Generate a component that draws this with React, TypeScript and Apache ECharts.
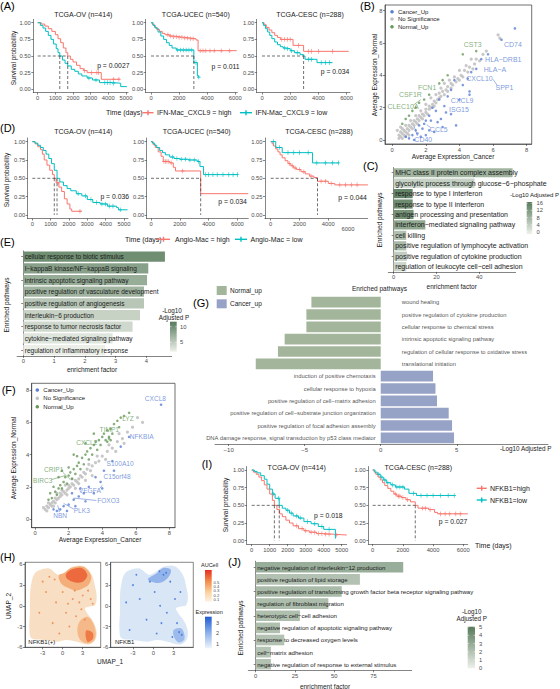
import React, { useEffect, useRef } from "react";
import * as echarts from "echarts";

type Pt = [number, number];

const FONT = "'Liberation Sans', Arial, Helvetica, sans-serif";
const RED = "#F8766D";
const CYAN = "#00BFC4";
const AXIS = "#333333";
const TICKTXT = "#4d4d4d";
const BLUE = "#5b80d4";
const GREEN = "#669a5a";
const GREY = "#c2c2c2";
const LOW_G = "#eef1eb";
const HIGH_G = "#577a5a";

// ---------- (A) IFN-Mac_CXCL9 survival (days, probability) ----------
const ovCxcl9High: Pt[] = [[0,1],[200,0.98],[400,0.95],[600,0.91],[800,0.87],[1000,0.82],[1150,0.76],[1300,0.7],[1450,0.62],[1600,0.55],[1700,0.5],[1850,0.45],[2000,0.41],[2200,0.36],[2400,0.31],[2600,0.28],[2800,0.25],[3600,0.15],[4650,0.15]];
const ovCxcl9HighCensor = [2650, 3050, 3350, 3450, 4300, 4600];
const ovCxcl9Low: Pt[] = [[0,1],[150,0.96],[300,0.92],[450,0.87],[600,0.81],[750,0.75],[900,0.68],[1050,0.61],[1150,0.55],[1250,0.5],[1400,0.44],[1550,0.39],[1700,0.35],[1900,0.3],[2100,0.27],[2300,0.23],[2500,0.2],[2800,0.17],[3100,0.14],[3500,0.1],[4300,0.09],[4700,0.04],[5050,0.04]];
const ovCxcl9LowCensor = [2900, 3300, 3800, 3950, 4100, 4300];

const ucecCxcl9High: Pt[] = [[0,1],[100,0.97],[250,0.93],[400,0.9],[600,0.87],[800,0.84],[1000,0.82],[1300,0.8],[1600,0.79],[2000,0.78],[2400,0.77],[2800,0.76],[3200,0.74],[3350,0.58],[6100,0.58]];
const ucecCxcl9HighCensor = [1200,1400,1600,1800,2000,2200,2400,2600,2800,3000,3500,3700,3900,4200,4500,5000,5600];
const ucecCxcl9Low: Pt[] = [[0,1],[150,0.96],[300,0.92],[500,0.86],[700,0.8],[900,0.75],[1100,0.7],[1300,0.66],[1500,0.62],[1800,0.59],[3050,0.4],[3300,0.2],[3400,0.18]];
const ucecCxcl9LowCensor = [1900, 2100, 2300, 2500, 2700, 2900, 3200, 3400];

const cescCxcl9High: Pt[] = [[0,1],[150,0.97],[300,0.93],[500,0.89],[700,0.85],[900,0.81],[1100,0.78],[1300,0.75],[2200,0.66],[2950,0.57],[6150,0.57]];
const cescCxcl9HighCensor = [1400,1600,1800,2000,2600,3300,3500,4000,5000];
const cescCxcl9Low: Pt[] = [[0,1],[100,0.96],[250,0.91],[400,0.86],[550,0.81],[700,0.76],[900,0.71],[1100,0.67],[1300,0.64],[1500,0.62],[1700,0.61],[2000,0.58],[2300,0.55],[2700,0.52],[2950,0.5],[3050,0.45],[3900,0.4],[5000,0.4]];
const cescCxcl9LowCensor = [1600,1800,2100,2500,3300,3500,4200,4500,4800];

// ---------- (D) Angio-Mac survival ----------
const ovAngioHigh: Pt[] = [[0,1],[150,0.97],[300,0.93],[450,0.89],[550,0.83],[650,0.75],[800,0.68],[950,0.61],[1100,0.55],[1200,0.5],[1300,0.44],[1450,0.38],[1600,0.32],[1750,0.22],[1900,0.15],[2050,0.08],[2150,0.05],[2700,0.05]];
const ovAngioHighCensor = [1400, 2600];
const ovAngioLow: Pt[] = [[0,1],[150,0.98],[300,0.95],[450,0.92],[600,0.88],[750,0.83],[900,0.77],[1050,0.7],[1200,0.61],[1350,0.5],[1500,0.45],[1700,0.4],[1900,0.36],[2100,0.33],[2400,0.29],[2700,0.26],[3000,0.21],[3300,0.17],[3700,0.15],[4100,0.12],[4600,0.1],[4700,0.07],[5200,0.07]];
const ovAngioLowCensor = [2500,2900,3200,3500,3800,4000,4200,4400,4800];

const ucecAngioHigh: Pt[] = [[0,1],[150,0.96],[300,0.92],[500,0.86],[700,0.8],[850,0.73],[1300,0.71],[1550,0.65],[1700,0.6],[3450,0.29],[6750,0.29]];
const ucecAngioHighCensor = [900,1000,1100,1200,1400,2200];
const ucecAngioLow: Pt[] = [[0,1],[100,0.98],[250,0.95],[400,0.92],[600,0.88],[800,0.85],[1000,0.82],[1300,0.79],[1600,0.77],[2000,0.76],[2600,0.75],[3200,0.73],[3400,0.66],[3650,0.55],[6050,0.55]];
const ucecAngioLowCensor = [1500,1800,2100,2400,2700,3000,3300,3800,4000,4300,4600,5000,5400,5700,6000];

const cescAngioHigh: Pt[] = [[0,1],[100,0.97],[200,0.94],[350,0.9],[500,0.86],[650,0.82],[800,0.78],[1000,0.74],[1200,0.7],[1400,0.67],[1600,0.64],[1800,0.62],[2100,0.59],[2400,0.56],[2700,0.53],[3000,0.51],[3250,0.46],[4000,0.43],[4450,0.41],[6750,0.41]];
const cescAngioHighCensor = [1300,1500,1700,2000,2300,2800,3500,3800,4200,4800,5200,5600,6000];
const cescAngioLow: Pt[] = [[0,1],[350,0.92],[800,0.85],[2900,0.71],[4750,0.71]];
const cescAngioLowCensor = [200,600,1200,1600,2000,2600,3200,3800,4300,4700];

// ---------- (I) NFKB1 survival ----------
const ovNfkbHigh: Pt[] = [[0,1],[100,0.97],[250,0.94],[400,0.9],[550,0.85],[700,0.79],[850,0.73],[1000,0.66],[1150,0.57],[1260,0.5],[1400,0.44],[1550,0.38],[1700,0.34],[1900,0.29],[2100,0.25],[2300,0.21],[2600,0.17],[2900,0.14],[3200,0.12],[3600,0.1],[4000,0.09],[4600,0.08],[5280,0.08]];
const ovNfkbHighCensor = [2500,2800,3000,3300,3500,3700,3900,4100,4300,4700];
const ovNfkbLow: Pt[] = [[0,1],[150,0.98],[300,0.96],[500,0.92],[700,0.87],[850,0.8],[1000,0.73],[1150,0.66],[1300,0.6],[1530,0.5],[1700,0.46],[1900,0.43],[2100,0.39],[2300,0.35],[2600,0.32],[2900,0.27],[3300,0.24],[3700,0.2],[4000,0.16],[4650,0.03]];
const ovNfkbLowCensor = [1200,1500,2000,2200,2500,2700,3100,3500,3900,4300];

const cescNfkbHigh: Pt[] = [[0,1],[100,0.97],[200,0.94],[350,0.9],[500,0.86],[650,0.82],[800,0.78],[1000,0.74],[1200,0.7],[1400,0.66],[1600,0.63],[1900,0.61],[2200,0.58],[2500,0.55],[2820,0.5],[3000,0.46],[3700,0.44],[4100,0.4],[4300,0.38],[6300,0.38]];
const cescNfkbHighCensor = [1500,1700,1800,2000,2300,3300,3500,3800,4500,4800,5100,5500,5800];
const cescNfkbLow: Pt[] = [[0,1],[150,0.97],[300,0.94],[500,0.9],[700,0.86],[900,0.82],[1200,0.79],[1500,0.76],[2100,0.73],[2400,0.67],[2900,0.64],[5400,0.64]];
const cescNfkbLowCensor = [400,600,800,1000,1300,1600,1800,2000,2700,3200,3600,4000,4500,5000,5400];

// ---------- (B) IFN-Mac_CXCL9 expression, cancer vs normal ----------
const bNoSig: Pt[] = [[0.4,0.3],[0.5,0.2],[0.6,0.4],[0.5,0.5],[0.7,0.3],[0.8,0.5],[0.7,0.6],[0.9,0.4],[0.9,0.7],[1.0,0.6],[1.1,0.8],[1.0,0.9],[1.2,0.7],[1.2,1.0],[1.3,0.9],[1.4,1.1],[1.3,1.2],[1.5,1.0],[1.5,1.3],[1.6,1.2],[1.7,1.4],[1.6,1.5],[1.8,1.3],[1.8,1.6],[1.9,1.5],[2.0,1.7],[2.0,1.9],[2.1,1.6],[2.2,1.9],[2.2,2.1],[2.3,2.0],[2.4,2.2],[2.5,2.1],[2.5,2.4],[2.6,2.3],[2.7,2.5],[2.8,2.6],[2.8,2.9],[2.9,2.7],[3.0,3.0],[3.1,2.8],[3.2,3.1],[3.3,3.0],[3.3,3.3],[3.5,3.2],[3.5,3.5],[3.6,3.4],[3.8,3.6],[3.9,3.8],[4.0,3.7],[4.1,4.0],[4.2,3.9],[4.3,4.3],[4.5,4.2],[4.6,4.5],[4.8,4.4],[4.9,4.7],[5.0,5.0],[5.2,4.9],[5.4,5.3],[5.6,5.5],[6.3,6.5],[6.4,6.3],[0.6,0.7],[0.8,0.9],[1.1,1.2],[1.4,1.5],[1.7,1.8],[2.0,2.2],[2.3,2.6],[2.6,2.8],[2.9,3.2],[3.1,3.5],[3.4,3.7],[3.7,3.9],[4.0,4.3],[4.4,4.6],[4.7,5.0],[0.3,0.6],[0.5,0.8],[0.4,0.1],[0.6,0.1],[0.8,0.2],[1.0,0.3]];
const bCancerUp: Pt[] = [[7.3,6.9],[6.5,6.2],[5.7,5.3],[5.3,5.0],[5.0,4.4],[4.7,4.2],[4.5,3.8],[4.2,3.4],[4.6,3.0],[3.7,3.7],[3.5,3.1],[3.3,2.7],[3.1,2.1],[2.8,2.5],[2.6,1.8],[2.4,2.0],[2.2,1.5],[2.0,1.2],[2.9,1.3],[3.5,1.6],[4.6,2.8],[3.8,0.9],[2.5,0.5],[1.8,0.7],[1.5,0.4],[1.2,0.3],[1.0,0.1],[1.3,0.0],[2.2,0.6],[2.0,0.3],[1.7,0.2],[3.0,0.8],[2.7,1.1],[1.6,0.9],[1.9,1.0],[2.3,1.2],[3.2,1.7],[4.0,2.5],[0.8,0.2],[1.4,0.6]];
const bNormalUp: Pt[] = [[4.2,5.3],[5.0,5.5],[3.0,3.7],[2.8,3.5],[1.9,2.5],[1.6,2.3],[1.2,1.8],[1.0,1.5],[0.8,1.3],[2.2,2.8],[1.4,2.0],[3.3,4.0],[0.6,1.0]];
// gene, label x, label y
const bCancerGenes: [string, number, number][] = [["CD74",7.18,5.92],["HLA−DRB1",6.61,4.95],["HLA−A",6.11,4.39],["CXCL10",5.19,3.82],["SPP1",6.68,3.26],["CXCL9",4.16,2.47],["ISG15",3.97,1.9],["CCL5",2.77,0.66],["CD40",1.85,0.04]];
const bNormalGenes: [string, number, number][] = [["CST3",4.79,5.92],["FCN1",2.08,3.26],["CSF1R",1.08,2.84],["CLEC10A",0.64,2.1]];
const bCancerLeaders: number[][] = [[6.0,3.75,6.25,3.38],[1.5,0.25,1.3,0.85],[2.3,0.75,2.05,0.95]];
const bNormalLeaders: number[][] = [[1.25,2.15,1.7,2.5]];

// ---------- (F) Angio-Mac expression, cancer vs normal ----------
const fNoSig: Pt[] = [[0.6,0.6],[0.7,0.8],[0.8,0.7],[0.9,0.9],[1.0,0.8],[1.0,1.0],[1.1,1.1],[1.2,1.0],[1.3,1.2],[1.4,1.3],[1.5,1.4],[1.5,1.6],[1.6,1.5],[1.7,1.7],[1.8,1.6],[1.9,1.8],[2.0,1.9],[2.0,2.1],[2.1,2.0],[2.2,2.2],[2.3,2.1],[2.4,2.4],[2.5,2.3],[2.6,2.5],[2.7,2.7],[2.8,2.6],[2.9,2.9],[3.0,2.8],[3.1,3.1],[3.3,3.0],[3.4,3.3],[3.6,3.5],[3.8,3.6],[4.0,3.9],[4.3,4.2],[4.6,4.4],[4.9,4.8],[5.2,5.0],[5.5,5.4],[5.8,5.7],[6.1,6.3],[6.4,6.0],[0.8,1.0],[1.2,1.3],[1.6,1.8],[2.2,2.5],[2.6,2.2],[3.2,3.4],[3.7,3.9],[4.4,4.6],[5.0,5.3],[0.7,0.5],[1.1,0.8],[1.9,1.5],[2.4,1.9],[3.0,2.4],[3.4,2.7],[4.2,3.7],[4.8,4.2],[5.3,4.7],[0.5,0.7],[1.3,1.6],[1.8,2.1]];
const fCancerUp: Pt[] = [[7.5,7.1],[5.6,5.1],[4.6,3.6],[4.7,3.0],[3.9,2.3],[4.0,1.9],[3.2,2.0],[2.9,1.6],[2.6,1.4],[2.3,1.2],[2.0,0.9],[1.7,0.8],[1.5,0.6],[1.3,0.5],[1.9,0.5],[2.4,0.8],[3.0,1.1],[3.5,1.6],[1.1,0.6],[2.2,1.6],[2.7,1.9],[4.1,3.0],[3.6,2.6],[5.1,4.5]];
const fNormalUp: Pt[] = [[1.2,1.7],[1.4,1.9],[1.5,2.1],[1.7,2.3],[1.8,2.6],[2.0,2.7],[2.1,2.9],[2.3,3.1],[2.5,3.3],[2.6,3.5],[2.8,3.8],[3.0,4.0],[3.1,4.2],[3.3,4.4],[3.5,4.6],[3.6,4.8],[3.8,4.9],[4.0,5.1],[4.1,5.3],[4.3,5.5],[4.5,5.6],[4.7,5.9],[4.9,6.1],[5.1,6.3],[5.3,6.4],[5.6,6.6],[2.2,2.5],[2.7,3.1],[3.2,3.7],[3.9,4.6],[4.4,5.1],[4.2,4.9],[4.3,4.8],[4.5,4.9],[4.4,5.0],[1.0,1.3],[0.8,1.2],[1.3,1.5],[1.6,1.9],[1.9,2.2],[2.4,2.8],[2.9,3.4],[3.4,4.0],[3.7,4.3],[4.6,5.3],[5.0,5.7],[0.9,1.6],[1.1,2.0],[1.4,2.6],[2.0,3.2],[2.5,3.9],[3.0,4.7],[3.5,5.3],[2.3,4.0],[1.6,3.0]];
const fCancerGenes: [string, number, number][] = [["CXCL8",7.16,7.5],["NFKBIA",6.35,5.11],["S100A10",5.06,3.42],["C15orf48",4.88,2.67],["VEGFA",3.26,1.78],["FOXO3",4.36,1.14],["PLK3",2.78,0.52],["NBN",1.49,0.19]];
const fNormalGenes: [string, number, number][] = [["LYZ",5.53,6.25],["TIMP1",4.42,5.57],["CXCL2",3.08,4.74],["CRIP1",1.11,3.09],["BIRC3",0.46,2.38]];
const fCancerLeaders: number[][] = [[2.3,1.3,3.65,1.15],[1.7,0.97,2.3,0.62],[1.45,0.42,1.35,0.85],[3.85,1.9,4.0,2.1]];
const fNormalLeaders: number[][] = [[1.65,2.9,2.1,2.45],[0.98,2.45,1.8,2.7]];

// ---------- (C) IFN-Mac_CXCL9 enrichment ----------
const cPathways = ["MHC class II protein complex assembly","glycolytic process through glucose−6−phosphate","response to type I interferon","response to type II interferon","antigen processing and presentation","interferon−mediated signaling pathway","cell killing","positive regulation of lymphocyte activation","positive regulation of cytokine production","regulation of leukocyte cell−cell adhesion"];
const cFactor = [55.6, 37.8, 8.9, 8.9, 9.3, 14.8, 5.9, 5.9, 6.2, 5.9];
const cLogP = [8, 3.5, 15, 14, 13, 10, 6, 7, 4, 3];

// ---------- (E) Angio-Mac enrichment ----------
const ePathways = ["cellular response to biotic stimulus","I−kappaB kinase/NF−kappaB signaling","intrinsic apoptotic signaling pathway","positive regulation of vasculature development","positive regulation of angiogenesis","interleukin−6 production","response to tumor necrosis factor","cytokine−mediated signaling pathway","regulation of inflammatory response"];
const eFactor = [4.6, 4.06, 4.02, 3.92, 3.92, 3.79, 3.55, 2.9, 2.66];
const eLogP = [10, 8.5, 7.5, 7, 5.5, 4.5, 4, 3, 2.2];

// ---------- (G) Normal_up vs Cancer_up pathways ----------
const gPathways = ["wound healing","positive regulation of cytokine production","cellular response to chemical stress","intrinsic apoptotic signaling pathway","regulation of cellular response to oxidative stress","translational initiation","induction of positive chemotaxis","cellular response to hypoxia","positive regulation of cell−matrix adhesion","positive regulation of cell−substrate junction organization","positive regulation of focal adhesion assembly","DNA damage response, signal transduction by p53 class mediator"];
const gLogP = [-4.56, -4.89, -4.89, -6.32, -6.76, -8.22, 3.44, 3.6, 3.7, 4.47, 4.69, 4.82];

// ---------- (J) NFKB1 enrichment ----------
const jPathways = ["negative regulation of interleukin−12 production","positive regulation of lipid storage","positive regulation of transforming growth factor beta receptor signaling pathway","regulation of fibroblast migration","heterotypic cell−cell adhesion","negative regulation of apoptotic signaling pathway","response to decreased oxygen levels","cell−matrix adhesion","negative regulation of response to external stimulus"];
const jFactor = [94, 66.4, 54.8, 46.3, 28.2, 15.5, 18.2, 9.7, 9.7];
const jLogP = [2.8, 2.0, 2.3, 2.2, 2.1, 2.1, 2.0, 1.9, 2.0];

// ---------- (H) UMAP embedding ----------
const umapOutline: Pt[] = [[-3.4,5.2],[-2.0,5.4],[-0.66,4.5],[0.34,4.9],[1.34,5.6],[3.1,5.75],[4.35,4.5],[4.85,2.8],[5.1,1.3],[4.85,0.1],[4.1,-0.1],[3.35,-0.35],[3.7,-1.1],[4.6,-2.3],[5.1,-3.8],[4.85,-5.0],[3.85,-5.6],[2.1,-5.2],[0.6,-4.95],[-0.9,-5.2],[-2.9,-4.95],[-4.65,-4.7],[-5.0,-3.3],[-4.9,-0.8],[-4.9,1.6],[-4.65,3.5],[-4.15,4.75]];
const aucellHighTop: Pt[] = [[-0.6,4.4],[0.3,4.8],[1.3,5.5],[3.1,5.65],[4.25,4.4],[4.0,3.2],[3.2,2.6],[2.0,2.2],[0.8,2.6],[-0.2,3.2]];
const aucellPeakTop: Pt[] = [[0.5,4.6],[1.4,5.3],[2.9,5.45],[3.7,4.4],[2.8,3.4],[1.5,3.5],[0.6,4.0]];
const aucellHighBottom: Pt[] = [[2.6,-2.2],[3.8,-1.6],[4.5,-2.4],[4.95,-3.8],[4.75,-4.9],[3.8,-5.45],[2.6,-4.9],[2.2,-3.5]];
const aucellPeakBottom: Pt[] = [[3.5,-3.6],[4.5,-3.9],[4.5,-4.8],[3.7,-5.2]];
const aucellSpots: Pt[] = [[-2.5,2.0],[-1.0,0.5],[0.5,-1.0],[1.5,1.0],[2.5,0.5],[3.8,2.2],[4.2,1.0],[2.0,-1.5],[1.0,-3.0],[-1.5,-2.5],[-3.5,-1.0],[-3.0,3.5],[0.0,2.0],[2.8,-0.5],[3.3,-2.0],[1.8,2.2],[-0.5,-4.0],[-2.0,4.2],[4.5,0.3],[3.0,1.5],[-1.2,3.8],[0.8,0.3]];
const exprHighTop: Pt[] = [[-0.8,3.8],[0.5,4.7],[1.5,5.5],[2.6,5.2],[2.1,4.0],[0.8,3.3]];
const exprHighBottom: Pt[] = [[3.0,-3.5],[4.2,-3.3],[4.6,-4.8],[3.8,-5.3],[3.1,-4.6]];
const exprSpots: Pt[] = [[-3.0,3.0],[-2.0,1.0],[-0.5,3.5],[0.2,2.0],[1.0,0.0],[2.0,-1.0],[3.5,-2.5],[4.0,2.0],[-1.0,-2.0],[-3.5,-3.5],[0.5,-4.0],[2.5,3.5],[3.2,1.0],[-2.5,4.5],[1.5,4.5],[4.2,-4.2],[3.8,-3.8],[-4.0,0.5],[1.2,-2.5],[2.8,-4.5],[0.9,5.0],[1.9,4.8]];

const PLUS = "path://M4,0H6V4H10V6H6V10H4V6H0V4H4Z";

const survAt = (c: Pt[], t: number) => {
  let s = 1;
  for (const [x, y] of c) {
    if (x <= t) s = y;
    else break;
  }
  return s;
};
const medianOf = (c: Pt[]) => {
  const p = c.find(([, y]) => y <= 0.5);
  return p ? p[0] : null;
};

const hexToRgb = (h: string) => [1, 3, 5].map((k) => parseInt(h.slice(k, k + 2), 16));
const mix = (a: string, b: string, t: number) => {
  const A = hexToRgb(a), B = hexToRgb(b);
  const u = Math.max(0, Math.min(1, t));
  return "rgb(" + A.map((v, k) => Math.round(v + (B[k] - v) * u)).join(",") + ")";
};

const plain = (v: number) => String(v);

function buildOption() {
  const grid: any[] = [];
  const xAxis: any[] = [];
  const yAxis: any[] = [];
  const series: any[] = [];
  const graphic: any[] = [];

  const addGrid = (box: any, xa: any, ya: any) => {
    const i = grid.length;
    grid.push({ containLabel: false, outerBoundsMode: "none", ...box });
    xAxis.push({ gridIndex: i, ...xa });
    yAxis.push({ gridIndex: i, ...ya });
    return i;
  };
  const valueAxis = (min: number, max: number, ticks: number[], formatter: any = plain, size = 5.8) => ({
    type: "value",
    min,
    max,
    axisLine: { show: true, onZero: false, lineStyle: { color: AXIS, width: 0.6 } },
    axisTick: { show: true, customValues: ticks, length: 2, lineStyle: { color: AXIS, width: 0.6 } },
    axisLabel: { show: true, customValues: ticks, fontSize: size, color: TICKTXT, fontFamily: FONT, margin: 2.5, formatter },
    splitLine: { show: false },
  });
  const txt = (text: string, x: number, y: number, o: any = {}) =>
    graphic.push({
      type: "text", x, y, rotation: o.rot || 0, z: 50, silent: true,
      style: { text, fontSize: o.size ?? 6.5, fontFamily: FONT, fill: o.color ?? "#1a1a1a", align: o.align ?? "left", verticalAlign: "middle" },
    });
  const rect = (x: number, y: number, w: number, h: number, fill: any) =>
    graphic.push({ type: "rect", silent: true, z: 50, shape: { x, y, width: w, height: h }, style: { fill } });
  const seg = (x1: number, y1: number, x2: number, y2: number, stroke: string, w = 1) =>
    graphic.push({ type: "line", silent: true, z: 50, shape: { x1, y1, x2, y2 }, style: { stroke, lineWidth: w } });
  const kmKey = (x1: number, x2: number, y: number, color: string) => {
    seg(x1, y, x2, y, color, 1.4);
    seg((x1 + x2) / 2, y - 2.5, (x1 + x2) / 2, y + 2.5, color, 1.4);
  };

  // Kaplan–Meier panel
  const km = (box: any, xr: [number, number], xt: number[], curves: { data: Pt[]; censor: number[]; color: string }[]) => {
    const i = addGrid(box, valueAxis(xr[0], xr[1], xt), valueAxis(-0.05, 1.05, [0, 0.25, 0.5, 0.75, 1], (v: number) => v.toFixed(2)));
    curves.forEach((c) => {
      series.push({ type: "line", xAxisIndex: i, yAxisIndex: i, data: c.data, step: "end", symbol: "none", silent: true, lineStyle: { color: c.color, width: 1 }, itemStyle: { color: c.color } });
      series.push({ type: "scatter", xAxisIndex: i, yAxisIndex: i, silent: true, symbol: PLUS, symbolSize: [3.6, 4.6], itemStyle: { color: c.color }, data: c.censor.map((t) => [t, survAt(c.data, t)]) });
    });
    const meds = curves.map((c) => medianOf(c.data)).filter((m) => m !== null) as number[];
    if (meds.length) {
      const dash = { color: "#333", width: 0.7, type: [3, 2] };
      series.push({ type: "line", xAxisIndex: i, yAxisIndex: i, silent: true, symbol: "none", lineStyle: dash, data: [[0, 0.5], [Math.max(...meds), 0.5]] });
      meds.forEach((m) => series.push({ type: "line", xAxisIndex: i, yAxisIndex: i, silent: true, symbol: "none", lineStyle: dash, data: [[m, 0.5], [m, 0]] }));
    }
    return i;
  };

  // ---------------- (A) ----------------
  km({ left: 33.3, top: 19.4, width: 94.8, height: 73.2 }, [-250, 5120], [0, 1000, 2000, 3000, 4000, 5000], [
    { data: ovCxcl9High, censor: ovCxcl9HighCensor, color: RED },
    { data: ovCxcl9Low, censor: ovCxcl9LowCensor, color: CYAN },
  ]);
  km({ left: 145.7, top: 19.4, width: 91.6, height: 73.2 }, [-377, 6142], [0, 2000, 4000, 6000], [
    { data: ucecCxcl9High, censor: ucecCxcl9HighCensor, color: RED },
    { data: ucecCxcl9Low, censor: ucecCxcl9LowCensor, color: CYAN },
  ]);
  km({ left: 256.7, top: 19.4, width: 93.3, height: 73.2 }, [-376, 6241], [0, 2000, 4000, 6000], [
    { data: cescCxcl9High, censor: cescCxcl9HighCensor, color: RED },
    { data: cescCxcl9Low, censor: cescCxcl9LowCensor, color: CYAN },
  ]);
  txt("(A)", 0, 6, { size: 11, color: "#000" });
  txt("TCGA-OV (n=414)", 83.3, 14, { size: 7, align: "center" });
  txt("TCGA-UCEC (n=540)", 195.8, 14, { size: 7, align: "center" });
  txt("TCGA-CESC (n=288)", 310, 14, { size: 7, align: "center" });
  txt("p = 0.0027", 113.3, 65.7, { size: 6.8, align: "center" });
  txt("p = 0.011", 225.5, 66, { size: 6.8, align: "center" });
  txt("p = 0.034", 335, 71, { size: 6.8, align: "center" });
  txt("Survival probability", 13.3, 58, { size: 6.5, align: "center", rot: Math.PI / 2 });
  txt("Time (days)", 106, 112.7, { size: 7 });
  kmKey(142.5, 153.5, 112.7, RED);
  txt("IFN-Mac_CXCL9 = high", 157, 112.7, { size: 7 });
  kmKey(240, 252, 112.7, CYAN);
  txt("IFN-Mac_CXCL9 = low", 255.5, 112.7, { size: 7 });

  // ---------------- (D) ----------------
  km({ left: 27.7, top: 138, width: 100.3, height: 80.6 }, [-251, 5221], [0, 1000, 2000, 3000, 4000, 5000], [
    { data: ovAngioHigh, censor: ovAngioHighCensor, color: RED },
    { data: ovAngioLow, censor: ovAngioLowCensor, color: CYAN },
  ]);
  km({ left: 146.7, top: 138, width: 101.6, height: 80.6 }, [-299, 6757], [0, 2000, 4000, 6000], [
    { data: ucecAngioHigh, censor: ucecAngioHighCensor, color: RED },
    { data: ucecAngioLow, censor: ucecAngioLowCensor, color: CYAN },
  ]);
  km({ left: 265, top: 138, width: 102.7, height: 80.6 }, [-396, 6736], [0, 2000, 4000], [
    { data: cescAngioHigh, censor: cescAngioHighCensor, color: RED },
    { data: cescAngioLow, censor: cescAngioLowCensor, color: CYAN },
  ]);
  txt("6000", 348, 229, { size: 5.8, color: TICKTXT, align: "center" });
  txt("(D)", 0, 128.3, { size: 11, color: "#000" });
  txt("TCGA-OV (n=414)", 83.3, 131.7, { size: 7, align: "center" });
  txt("TCGA-UCEC (n=540)", 196.7, 131.7, { size: 7, align: "center" });
  txt("TCGA-CESC (n=288)", 319, 131.7, { size: 7, align: "center" });
  txt("p = 0.036", 114.7, 196, { size: 6.8, align: "center" });
  txt("p = 0.034", 232.5, 201, { size: 6.8, align: "center" });
  txt("p = 0.044", 352.5, 197.7, { size: 6.8, align: "center" });
  txt("Survival probability", 6.7, 180, { size: 6.5, align: "center", rot: Math.PI / 2 });
  txt("Time (days)", 125, 239.3, { size: 7 });
  kmKey(157, 170, 239.3, RED);
  txt("Angio-Mac = high", 175, 239.3, { size: 7 });
  kmKey(235, 247, 239.3, CYAN);
  txt("Angio-Mac = low", 250.5, 239.3, { size: 7 });

  // ---------------- (I) ----------------
  km({ left: 246.7, top: 466.5, width: 100, height: 77.7 }, [-278, 5278], [0, 1000, 2000, 3000, 4000, 5000], [
    { data: ovNfkbHigh, censor: ovNfkbHighCensor, color: RED },
    { data: ovNfkbLow, censor: ovNfkbLowCensor, color: CYAN },
  ]);
  km({ left: 368.3, top: 466.5, width: 99.4, height: 77.7 }, [-291, 6292], [0, 2000, 4000, 6000], [
    { data: cescNfkbHigh, censor: cescNfkbHighCensor, color: RED },
    { data: cescNfkbLow, censor: cescNfkbLowCensor, color: CYAN },
  ]);
  txt("(I)", 201.7, 464, { size: 11, color: "#000" });
  txt("TCGA-OV (n=414)", 296.7, 467.3, { size: 7, align: "center" });
  txt("TCGA-CESC (n=288)", 418.3, 467.3, { size: 7, align: "center" });
  txt("p = 0.018", 328.3, 515, { size: 6.8, align: "center" });
  txt("p = 0.027", 453, 521, { size: 6.8, align: "center" });
  txt("Survival probability", 225, 505, { size: 6.5, align: "center", rot: Math.PI / 2 });
  kmKey(476.7, 486.7, 488.3, RED);
  txt("NFKB1=high", 490, 488.3, { size: 7 });
  kmKey(476.7, 486.7, 500, CYAN);
  txt("NFKB1=low", 490, 500, { size: 7 });
  txt("Time (days)", 475, 545, { size: 7 });

  // Scatter panel: cancer vs normal expression
  const volcano = (box: any, xr: [number, number], yr: [number, number], sets: any) => {
    const i = addGrid({ ...box, show: true, borderColor: "#333", borderWidth: 0.7, backgroundColor: "transparent" },
      valueAxis(xr[0], xr[1], [0, 2, 4, 6, 8]), valueAxis(yr[0], yr[1], [0, 2, 4, 6, 8]));
    series.push({ type: "scatter", xAxisIndex: i, yAxisIndex: i, silent: true, data: sets.grey, symbolSize: 3.2, itemStyle: { color: GREY, opacity: 0.9 } });
    series.push({ type: "scatter", xAxisIndex: i, yAxisIndex: i, silent: true, data: sets.green, symbolSize: 2.6, itemStyle: { color: GREEN } });
    series.push({ type: "scatter", xAxisIndex: i, yAxisIndex: i, silent: true, data: sets.blue, symbolSize: 2.6, itemStyle: { color: BLUE } });
    const leaders = (segs: number[][], color: string) =>
      series.push({ type: "lines", coordinateSystem: "cartesian2d", xAxisIndex: i, yAxisIndex: i, silent: true, lineStyle: { color, width: 0.6, opacity: 1 }, data: segs.map((s) => ({ coords: [[s[0], s[1]], [s[2], s[3]]] })) });
    leaders(sets.blueLeaders, BLUE);
    leaders(sets.greenLeaders, GREEN);
    const labels = (genes: [string, number, number][], color: string, size: number) =>
      series.push({ type: "scatter", xAxisIndex: i, yAxisIndex: i, silent: true, symbolSize: 1, itemStyle: { color: "rgba(0,0,0,0)" },
        data: genes.map((g) => ({ value: [g[1], g[2]], name: g[0] })),
        label: { show: true, position: "inside", formatter: "{b}", color, fontSize: size, fontFamily: FONT } });
    labels(sets.blueGenes, BLUE, sets.size);
    labels(sets.greenGenes, GREEN, sets.size);
    return i;
  };

  // ---------------- (B) ----------------
  volcano({ left: 385, top: 5, width: 146.7, height: 139 }, [-0.43, 8.3], [-0.25, 8.35], {
    grey: bNoSig, green: bNormalUp, blue: bCancerUp, blueLeaders: bCancerLeaders, greenLeaders: bNormalLeaders,
    blueGenes: bCancerGenes, greenGenes: bNormalGenes, size: 7,
  });
  txt("(B)", 360, 5.5, { size: 11, color: "#000" });
  txt("Average Expression_Cancer", 453, 156, { size: 6.5, align: "center" });
  txt("Average Expression_Normal", 374, 75, { size: 6.5, align: "center", rot: Math.PI / 2 });
  const volcanoKey = (x: number, ys: number[]) => {
    [BLUE, GREY, GREEN].forEach((c, k) => graphic.push({ type: "circle", silent: true, z: 50, shape: { cx: x, cy: ys[k], r: 1.8 }, style: { fill: c } }));
    ["Cancer_Up", "No Significance", "Normal_Up"].forEach((t, k) => txt(t, x + 6, ys[k], { size: 6 }));
  };
  volcanoKey(392, [11.7, 19, 26.7]);

  // ---------------- (F) ----------------
  volcano({ left: 31.7, top: 383.3, width: 143.3, height: 144.4 }, [-0.2, 8.33], [-0.54, 8.43], {
    grey: fNoSig, green: fNormalUp, blue: fCancerUp, blueLeaders: fCancerLeaders, greenLeaders: fNormalLeaders,
    blueGenes: fCancerGenes, greenGenes: fNormalGenes, size: 6.6,
  });
  txt("(F)", 1.7, 390, { size: 11, color: "#000" });
  txt("Average Expression_Cancer", 100, 539.3, { size: 6.5, align: "center" });
  txt("Average Expression_Normal", 13.3, 458, { size: 6.5, align: "center", rot: Math.PI / 2 });
  volcanoKey(37.3, [390, 398.3, 406.7]);

  // Enrichment bar panel
  const enrich = (box: any, xr: [number, number], xt: number[], names: string[], vals: number[], logp: number[], vmin: number, vmax: number, fs: number) => {
    const i = addGrid(box, valueAxis(xr[0], xr[1], xt), {
      type: "category", data: names, inverse: true,
      axisLine: { show: true, lineStyle: { color: AXIS, width: 0.6 } },
      axisTick: { show: true, alignWithLabel: true, length: 2, lineStyle: { color: AXIS, width: 0.6 } },
      axisLabel: { show: false }, splitLine: { show: false },
    });
    series.push({
      type: "bar", xAxisIndex: i, yAxisIndex: i, silent: true, barCategoryGap: "12%",
      data: vals.map((v, k) => ({ value: v, itemStyle: { color: mix(LOW_G, HIGH_G, (logp[k] - vmin) / (vmax - vmin)) } })),
      label: { show: true, position: "insideLeft", distance: 1.5, formatter: "{b}", fontSize: fs, color: "#1a1a1a", fontFamily: FONT },
    });
  };
  const greenBar = (x: number, y: number, w: number, h: number, vmin: number, vmax: number, ticks: number[], lx: number) => {
    rect(x, y, w, h, new echarts.graphic.LinearGradient(0, 0, 0, 1, [{ offset: 0, color: mix(LOW_G, HIGH_G, 1) }, { offset: 1, color: mix(LOW_G, HIGH_G, 0) }]));
    ticks.forEach((t) => {
      const ty = y + ((vmax - t) / (vmax - vmin)) * h;
      seg(x, ty, x + 1.5, ty, "#fff", 0.5);
      seg(x + w - 1.5, ty, x + w, ty, "#fff", 0.5);
      txt(String(t), lx, ty, { size: 5.8, color: TICKTXT });
    });
  };

  // ---------------- (C) ----------------
  enrich({ left: 388.3, top: 167.5, width: 127.3, height: 104.4 }, [-2.5, 57], [0, 20, 40], cPathways, cFactor, cLogP, -1.2, 16.7, 7);
  txt("(C)", 363, 166, { size: 11, color: "#000" });
  txt("enrichment factor", 451.7, 286.7, { size: 6.5, align: "center" });
  txt("Enriched pathways", 379, 220, { size: 6.5, align: "center", rot: Math.PI / 2 });
  txt("-Log10 Adjusted P", 510, 195, { size: 6 });
  greenBar(526.7, 202, 5.5, 32, -1.2, 16.7, [16, 12, 8, 4, 0], 536.5);

  // ---------------- (E) ----------------
  enrich({ left: 17.1, top: 250.9, width: 154.6, height: 105 }, [-0.2, 4.82], [0, 1, 2, 3, 4], ePathways, eFactor, eLogP, 2.0, 11.6, 6.5);
  txt("(E)", 0, 241.7, { size: 11, color: "#000" });
  txt("enrichment factor", 92, 369, { size: 6.5, align: "center" });
  txt("Enriched pathways", 6.7, 305, { size: 6.5, align: "center", rot: Math.PI / 2 });
  txt("-Log10", 172, 310.7, { size: 6.3, align: "center" });
  txt("Adjusted P", 174, 317.3, { size: 6.3, align: "center" });
  greenBar(170, 321.7, 6.7, 30, 2.0, 11.6, [10, 5], 180);

  // ---------------- (J) ----------------
  enrich({ left: 248.3, top: 561.2, width: 163.4, height: 109.1 }, [-4.7, 99.4], [0, 25, 50, 75], jPathways, jFactor, jLogP, 0, 5, 6.1);
  txt("(J)", 228, 562, { size: 11, color: "#000" });
  txt("enrichment factor", 325, 686, { size: 6.5, align: "center" });
  txt("Enriched pathways", 240, 628, { size: 6.5, align: "center", rot: Math.PI / 2 });
  txt("-Log10", 471.7, 611.7, { size: 6.3, align: "center" });
  txt("Adjusted P", 471.7, 618.3, { size: 6.3, align: "center" });
  greenBar(467.7, 626.7, 7.3, 41.6, 0, 5.05, [5, 4, 3, 2, 1, 0], 479);

  // ---------------- (G) ----------------
  const G_GREEN = "#a3b69b";
  const G_BLUE = "#97a2c7";
  const gi = addGrid({ left: 215, top: 296, width: 333, height: 148 },
    valueAxis(-10.9, 11, [-10, -5, 0, 5], (v: number) => (v < 0 ? "−" + Math.abs(v) : String(v)), 6),
    { type: "category", data: gPathways, inverse: true, axisLine: { show: false }, axisTick: { show: false }, axisLabel: { show: false }, splitLine: { show: false } });
  series.push({
    type: "bar", xAxisIndex: gi, yAxisIndex: gi, silent: true, barCategoryGap: "13%",
    data: gLogP.map((v) => ({ value: v, itemStyle: { color: v < 0 ? G_GREEN : G_BLUE } })),
  });
  const gLabel = (neg: boolean) =>
    series.push({
      type: "scatter", xAxisIndex: gi, yAxisIndex: gi, silent: true, symbolSize: 1, itemStyle: { color: "rgba(0,0,0,0)" },
      data: gLogP.map((v, k) => ({ v, k })).filter((d) => (d.v < 0) === neg).map((d) => ({ value: [neg ? 1.35 : -0.3, d.k], name: gPathways[d.k] })),
      label: { show: true, position: neg ? "right" : "left", distance: 0, formatter: "{b}", fontSize: 5.8, color: "#222", fontFamily: FONT },
    });
  gLabel(true);
  gLabel(false);
  txt("(G)", 193, 302.7, { size: 11, color: "#000" });
  rect(216.7, 286, 10, 9, G_GREEN);
  rect(216.7, 299.3, 10, 9, G_BLUE);
  txt("Normal_up", 230, 290.5, { size: 6.5 });
  txt("Cancer_up", 230, 303.8, { size: 6.5 });
  txt("Enriched pathways", 352, 288, { size: 6.5 });
  txt("-Log10 Adjusted P", 500, 448.3, { size: 6.3 });

  // ---------------- (H) ----------------
  const umap = (box: any, xr: [number, number], layers: { pts: Pt[]; fill: string }[], spots: Pt[], spotColor: string) => {
    const i = addGrid({ ...box, show: true, borderColor: "#555", borderWidth: 0.7, backgroundColor: "transparent" },
      valueAxis(xr[0], xr[1], [-3, 0, 3]), valueAxis(-6.0, 6.3, [-6, -3, 0, 3, 6]));
    layers.forEach((L) =>
      series.push({
        type: "custom", xAxisIndex: i, yAxisIndex: i, silent: true, data: [[L.pts[0][0], L.pts[0][1]]],
        renderItem: (_p: any, api: any) => ({ type: "polygon", shape: { points: L.pts.map((p) => api.coord(p)), smooth: 0.35 }, style: { fill: L.fill } }),
      })
    );
    series.push({ type: "scatter", xAxisIndex: i, yAxisIndex: i, silent: true, data: spots, symbolSize: 1.8, itemStyle: { color: spotColor, opacity: 0.85 } });
    return i;
  };
  umap({ left: 25, top: 562.3, width: 75.7, height: 85 }, [-5.65, 5.7], [
    { pts: umapOutline, fill: "#f8dfc3" },
    { pts: aucellHighTop, fill: "#f4ae7a" },
    { pts: aucellPeakTop, fill: "#ec6a3e" },
    { pts: aucellHighBottom, fill: "#f5b889" },
    { pts: aucellPeakBottom, fill: "#ee7a48" },
  ], aucellSpots, "#ee8248");
  umap({ left: 110.7, top: 562.3, width: 82.6, height: 85 }, [-6.28, 5.9], [
    { pts: umapOutline, fill: "#d9e6f6" },
    { pts: exprHighTop, fill: "#93b4ea" },
    { pts: exprHighBottom, fill: "#9dbbec" },
  ], exprSpots, "#3a72dc");
  txt("(H)", 0, 557.3, { size: 11, color: "#000" });
  txt("NFKB1(+)", 28.3, 642.3, { size: 6 });
  txt("NFKB1", 115, 642.3, { size: 6 });
  txt("UMAP_2", 8.3, 606, { size: 6.5, align: "center", rot: Math.PI / 2 });
  txt("UMAP_1", 110, 661.7, { size: 6.5, align: "center" });
  txt("AUCell", 201, 564.5, { size: 5.5 });
  rect(205, 570, 6.7, 31.7, new echarts.graphic.LinearGradient(0, 0, 0, 1, [
    { offset: 0, color: "#e42f1e" }, { offset: 0.35, color: "#f48a4c" }, { offset: 0.7, color: "#fbd2a0" }, { offset: 1, color: "#fdf3e3" },
  ]));
  [0.5, 0.4, 0.3, 0.2, 0.1].forEach((v) => txt(v.toFixed(1), 213.5, 570 + ((0.79 - v) / (0.79 - 0.044)) * 31.7, { size: 4.2, color: TICKTXT }));
  txt("Expression", 195.5, 611.7, { size: 5.5 });
  rect(205, 616.7, 6.7, 31.6, new echarts.graphic.LinearGradient(0, 0, 0, 1, [
    { offset: 0, color: "#1f5bd4" }, { offset: 0.5, color: "#8ab0ea" }, { offset: 1, color: "#eef4fc" },
  ]));
  [3, 2, 1].forEach((v) => txt(String(v), 216, 616.7 + ((3.56 - v) / (3.56 - 0.6)) * 31.6, { size: 5.5, color: TICKTXT }));

  return {
    animation: false,
    backgroundColor: "#ffffff",
    textStyle: { fontFamily: FONT },
    grid, xAxis, yAxis, series, graphic,
  };
}

export default function App() {
  const ref = useRef<HTMLDivElement>(null);
  useEffect(() => {
    if (!ref.current) return;
    const chart = echarts.init(ref.current, null, { renderer: "svg" });
    chart.setOption(buildOption() as any);
    return () => chart.dispose();
  }, []);
  return <div ref={ref} style={{ position: "fixed", left: 0, top: 0, width: 560, height: 689, background: "#fff" }} />;
}
